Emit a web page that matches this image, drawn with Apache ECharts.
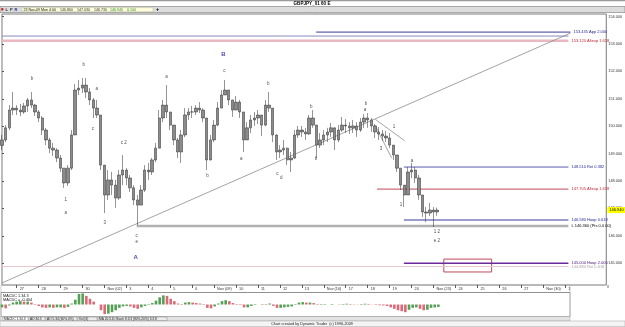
<!DOCTYPE html>
<html><head><meta charset="utf-8">
<script src="https://cdn.jsdelivr.net/npm/echarts@6/dist/echarts.min.js"></script>
<style>html,body{margin:0;padding:0;background:#fff}#c{width:625px;height:327px}</style>
</head><body><div id="c"></div>
<script>
// ---- DATA (4-hour bars; hour index counted from the first bar, Oct 26 08:00) ----
const barHours = [];
for (let i = 0; i < 120; i++) barHours.push(i * 4);
const firstOpen = 149.30;
const highs = [149.68,150.04,150.77,151.25,150.77,150.81,150.85,151.03,151.25,150.81,
150.59,150.37,149.94,149.57,149.39,149.20,148.95,148.47,148.58,149.86,
151.54,151.69,151.76,151.76,151.39,151.03,150.96,150.41,148.58,148.40,
148.33,148.04,148.40,148.95,148.47,148.22,147.85,147.49,147.85,148.58,
148.66,148.84,149.39,150.59,150.96,151.50,150.52,150.04,149.57,149.86,
150.66,150.66,150.74,150.77,150.88,150.66,150.30,149.68,150.23,150.88,
151.32,151.69,151.32,150.96,151.10,150.96,150.52,150.15,150.41,150.52,
150.59,150.41,150.96,151.25,150.66,149.70,149.31,149.50,149.22,149.06,
149.86,150.01,150.01,149.94,150.41,150.59,150.05,149.75,149.86,149.94,
150.12,149.95,150.04,150.34,150.26,150.15,150.23,150.15,150.30,150.45,
150.48,150.30,150.08,149.97,149.86,149.83,149.75,149.31,148.95,148.47,
147.85,148.51,148.66,148.51,148.22,147.49,147.05,147.20,147.05,147.03];
const lows = [149.13,149.42,149.86,150.41,150.41,150.37,150.45,150.52,150.66,150.37,
150.15,149.68,149.31,149.02,148.91,148.69,148.33,147.75,147.82,148.40,
149.68,151.14,151.21,151.03,150.77,150.30,150.30,148.40,146.83,147.31,
147.49,147.02,147.31,147.85,147.85,147.60,147.12,146.39,147.12,147.60,
148.04,148.22,148.69,149.20,150.15,150.30,149.86,149.31,148.84,148.66,
149.60,150.23,150.30,150.41,150.48,150.15,148.40,148.75,149.42,150.00,
150.66,151.14,150.77,150.34,150.59,150.30,149.06,149.50,149.75,150.01,
150.08,149.64,150.00,150.52,149.42,148.77,148.84,148.95,148.58,148.33,
148.80,149.57,149.61,149.50,149.68,149.94,148.84,149.20,149.31,149.42,
149.61,149.13,149.42,149.79,149.75,149.72,149.75,149.61,149.79,149.94,
149.94,149.79,149.57,149.50,149.46,149.42,149.20,148.77,148.33,147.67,
147.05,147.49,148.11,147.93,147.31,146.69,146.50,146.72,146.32,146.73];
const closes = [149.50,149.94,150.59,150.66,150.59,150.52,150.74,150.96,150.77,150.52,
150.30,149.86,149.50,149.20,149.13,148.84,148.47,147.93,148.47,149.68,
151.32,151.39,151.50,151.25,150.96,150.66,150.41,148.58,147.49,148.04,
147.85,147.38,148.22,148.40,148.11,147.75,147.31,147.12,147.67,148.40,
148.33,148.77,149.20,150.30,150.77,150.52,150.04,149.50,149.06,149.68,
150.41,150.52,150.52,150.66,150.59,150.30,148.77,149.50,150.04,150.66,
151.14,151.32,150.96,150.59,150.88,150.52,149.50,149.94,150.23,150.30,
150.41,150.04,150.77,150.66,149.68,149.06,149.13,149.20,148.77,148.84,
149.68,149.86,149.79,149.72,150.30,150.04,149.31,149.50,149.68,149.79,
149.94,149.50,149.86,150.04,150.01,149.94,150.01,149.86,150.15,150.30,
150.23,150.01,149.79,149.72,149.64,149.57,149.31,148.95,148.47,147.85,
147.49,148.33,148.40,148.11,147.49,146.87,146.83,146.94,146.87,146.94];
const macdHist = [-0.3,-0.4,-0.1,0.2,0.3,0.35,0.3,0.3,0.2,0.05,
-0.15,-0.3,-0.35,-0.3,-0.35,-0.3,-0.3,-0.35,-0.25,0.1,
0.5,1.1,1.15,0.9,0.6,0.3,0.0,-0.6,-1.0,-0.95,
-0.8,-0.6,-0.35,-0.2,-0.15,-0.2,-0.35,-0.45,-0.3,-0.15,
-0.05,0.15,0.4,0.75,0.95,0.9,0.6,0.35,0.1,0.05,
0.2,0.25,0.2,0.15,0.1,-0.05,-0.35,-0.4,-0.2,0.1,
0.35,0.45,0.35,0.15,0.05,-0.05,-0.3,-0.3,-0.15,-0.05,
0.0,-0.05,0.05,0.1,-0.15,-0.35,-0.35,-0.3,-0.25,-0.2,
0.05,0.2,0.25,0.2,0.2,0.15,-0.05,-0.05,-0.05,0.0,
0.05,0.0,-0.03,0.05,0.08,0.05,0.03,0.02,0.05,0.08,
0.06,0.02,-0.05,-0.08,-0.1,-0.15,-0.3,-0.45,-0.6,-0.7,
-0.8,-0.55,-0.35,-0.3,-0.45,-0.6,-0.55,-0.35,-0.3,-0.25];

// x-axis ticks (start of each trading day) and their labels
const tickHours = [16,40,64,88,112,136,160,184,208,232,256,280,304,328,352,376,400,424,448,472,496,520,544,568,592,616];
const tickLabels = ['27','28','29','30','Nov (02)','3','4','5','6','Nov (09)','10','11','12','13','Nov (16)','17','18','19','20','Nov (23)','24','25','26','27','Nov (30)','1'];
const priceTicks = [145,146,147,148,149,150,151,152,153,154];
const lastPrice = 146.94;

// price levels (horizontal lines)
const levelPrices = [153.435,153.290,153.120,148.510,147.705,146.580,146.360,145.000,144.880];
const levelStart  = [343.6,0,0,439.6,410.2,439.6,147.3,439.6,0];
const levelEnd    = [621.8,619.6,619.6,619.6,619.6,619.6,619.6,619.6,619.6];
const levelLabels = ['153.435 App 2.000','','153.120 Altexp 1.618','148.510 Ret 0.382','147.705 Altexp 1.618','146.580 Hoop 0.618','L 146.360 (Pts 0.0 00)','145.000 Hoop 2.000','144.880 Ret 0.618'];

// trend lines
const trendHours  = [[0,621.8],[408.4,440.4],[408,426.2]];
const trendPrices = [[144.28,153.40],[150.25,149.47],[150.04,148.84]];

// target box
const boxHours = [483.3,535.6];
const boxPrices = [145.15,144.68];

// wave labels
const waveHours  = [32.7,89.5,103.6,99.3,133.1,180,243.3,291.3,224.7,261.8,301.1,305.5,338.2,343.6,398.2,397.1,428.7,414.5,448.4,69.8,69.8,112.4,147.3,147.3,436.4,475.6,475.6];
const wavePrices = [151.72,152.23,151.36,149.90,149.39,151.80,152.01,151.54,148.18,148.80,148.26,148.11,150.70,148.80,150.81,150.59,149.97,149.17,148.73,147.31,146.83,146.47,145.99,145.77,147.12,146.14,145.81];
const waveTexts  = ['b','b','a','c','c 2','a','c','b','b','a','c','d','b','b','b','a','1','3','a','1','a','3','c','e','1','1 2','e 2'];
const bigHours = [146.2,242.2];
const bigPrices = [145.23,152.64];
const bigTexts = ['A','B'];

// ---- STYLES ----
const FF = 'Liberation Sans, Arial, sans-serif';
const levelColors = ['#3a3a9a','#8a8ac0','#eab8c0','#5a5ab0','#c04858','#9c9cd0','#b0b0b0','#6a2a9a','#e8c8cc'];
const levelWidths = [1,1,2.5,1,1,2,2.5,1.6,1.2];
const levelTextColors = ['#2a2a9a','#2a2a9a','#c02838','#2a2a9a','#c02838','#2a2a9a','#000','#4a1a7a','#b0a0a8'];

const opens = closes.map((c, i) => i === 0 ? firstOpen : closes[i - 1]);
const candleData = barHours.map((h, i) => [h, opens[i], closes[i], lows[i], highs[i]]);
const macdData = barHours.map((h, i) => ({
  value: [h, macdHist[i]],
  itemStyle: { color: (i > 0 && macdHist[i] < macdHist[i - 1]) ? '#da6a78' : '#55a055' }
}));

const series = [];
series.push({
  type: 'candlestick', xAxisIndex: 0, yAxisIndex: 0, data: candleData,
  barWidth: 2.9, silent: true,
  itemStyle: { color: '#8c8c8c', color0: '#8c8c8c', borderColor: '#2a2a2a', borderColor0: '#2a2a2a', borderWidth: 0.5 },
  markLine: {
    silent: true, symbol: 'none', animation: false,
    lineStyle: { color: 'rgba(0,0,0,0)', width: 1, type: 'solid' },
    label: { show: true, position: 'end', distance: 1, formatter: lastPrice.toFixed(3), backgroundColor: '#ffff00',
      color: '#000', fontSize: 4, fontFamily: FF, padding: [1, 2] },
    data: [{ yAxis: lastPrice }]
  },
  markArea: {
    silent: true,
    itemStyle: { color: 'rgba(0,0,0,0)', borderColor: '#c04858', borderWidth: 1 },
    data: [[{ coord: [boxHours[0], boxPrices[0]] }, { coord: [boxHours[1], boxPrices[1]] }]]
  },
  z: 3
});
levelPrices.forEach((p, i) => {
  series.push({
    type: 'line', xAxisIndex: 0, yAxisIndex: 0, silent: true, animation: false,
    data: [[levelStart[i], p], [levelEnd[i], p]], symbol: 'none',
    lineStyle: { color: levelColors[i], width: levelWidths[i] },
    endLabel: { show: levelLabels[i] !== '', formatter: levelLabels[i], color: levelTextColors[i],
      fontSize: 4, fontFamily: FF, distance: 3 },
    z: 2
  });
});
trendHours.forEach((hs, i) => {
  series.push({
    type: 'line', xAxisIndex: 0, yAxisIndex: 0, silent: true, animation: false,
    data: [[hs[0], trendPrices[i][0]], [hs[1], trendPrices[i][1]]], symbol: 'none',
    lineStyle: { color: '#8c8c8c', width: 0.8 }, z: 2
  });
});
series.push({
  type: 'scatter', xAxisIndex: 0, yAxisIndex: 0, silent: true, animation: false,
  data: waveHours.map((h, i) => [h, wavePrices[i]]), symbolSize: 2, itemStyle: { color: 'rgba(0,0,0,0)' },
  label: { show: true, position: 'inside', formatter: p => waveTexts[p.dataIndex], color: '#222', fontSize: 4.5, fontFamily: FF },
  z: 6
});
series.push({
  type: 'scatter', xAxisIndex: 0, yAxisIndex: 0, silent: true, animation: false,
  data: bigHours.map((h, i) => [h, bigPrices[i]]), symbolSize: 2, itemStyle: { color: 'rgba(0,0,0,0)' },
  label: { show: true, position: 'inside', formatter: p => bigTexts[p.dataIndex], color: '#1a1aa0', fontSize: 6, fontWeight: 'bold', fontFamily: FF },
  z: 6
});
series.push({
  type: 'bar', xAxisIndex: 1, yAxisIndex: 1, data: macdData, barWidth: 2.6, silent: true, animation: false
});

const tabs = [
  ['MACDC 1.34.3', 3, 25], ['AD 34.5', 29, 16], ['AO 5.34 (60%,0%)', 46, 31],
  ['Vol (6)', 78, 19], ['MA 20.3.4', 98, 16], ['Stoch 8.3.3 (80%,20%) 3.3.8', 115, 52]
];
const graphic = [
  { type: 'rect', shape: { x: 0, y: 0, width: 625, height: 1.2 }, style: { fill: '#9a9a9a' } },
  { type: 'text', x: 312, y: 3.9, style: { text: 'GBPJPY_01 60 E', fontSize: 4.6, fontWeight: 'bold', fontFamily: FF, fill: '#000', align: 'center', verticalAlign: 'middle' } },
  { type: 'rect', shape: { x: 0, y: 6.5, width: 625, height: 6 }, style: { fill: '#dcdcdc', stroke: '#7a7a7a', lineWidth: 0.6 } },
  { type: 'rect', shape: { x: 1.2, y: 8.2, width: 2.2, height: 2.2 }, style: { fill: '#c01818' } },
  { type: 'text', x: 5.5, y: 9.6, style: { text: 'L', fontSize: 4, fontWeight: 'bold', fontFamily: FF, fill: '#333', verticalAlign: 'middle' } },
  { type: 'text', x: 10, y: 9.6, style: { text: 'P', fontSize: 4, fontWeight: 'bold', fontFamily: FF, fill: '#333', verticalAlign: 'middle' } },
  { type: 'text', x: 14.5, y: 9.6, style: { text: 'R', fontSize: 4, fontWeight: 'bold', fontFamily: FF, fill: '#2a2aa0', verticalAlign: 'middle' } },
  { type: 'rect', shape: { x: 22, y: 7.6, width: 131, height: 4.2 }, style: { fill: '#ffffdc', stroke: '#b8b8a0', lineWidth: 0.5 } },
  { type: 'text', x: 23.5, y: 9.7, style: { text: '23 Nov-09 Mon 4:00', fontSize: 3.6, fontFamily: FF, fill: '#111', verticalAlign: 'middle' } },
  { type: 'text', x: 60, y: 9.7, style: { text: '146.860', fontSize: 3.6, fontFamily: FF, fill: '#333', verticalAlign: 'middle' } },
  { type: 'text', x: 77, y: 9.7, style: { text: '147.030', fontSize: 3.6, fontFamily: FF, fill: '#333', verticalAlign: 'middle' } },
  { type: 'text', x: 94, y: 9.7, style: { text: '146.730', fontSize: 3.6, fontFamily: FF, fill: '#333', verticalAlign: 'middle' } },
  { type: 'text', x: 110, y: 9.7, style: { text: '146.940', fontSize: 3.6, fontFamily: FF, fill: '#2a8a2a', verticalAlign: 'middle' } },
  { type: 'text', x: 127, y: 9.7, style: { text: '0.100', fontSize: 3.6, fontFamily: FF, fill: '#2a8a2a', verticalAlign: 'middle' } },
  { type: 'text', x: 156, y: 9.6, style: { text: '+', fontSize: 5.5, fontWeight: 'bold', fontFamily: FF, fill: '#000', verticalAlign: 'middle' } },
  { type: 'rect', shape: { x: 1, y: 285, width: 569, height: 7.5 }, style: { fill: 'none', stroke: '#b0b0b0', lineWidth: 0.6 } },
  { type: 'rect', shape: { x: 1, y: 292.5, width: 569, height: 24 }, style: { fill: 'none', stroke: '#808080', lineWidth: 0.8 } },
  { type: 'text', x: 3, y: 295.5, style: { text: 'MACDC 1.34.3', fontSize: 3.8, fontFamily: FF, fill: '#111', verticalAlign: 'middle' } },
  { type: 'text', x: 3, y: 299.6, style: { text: 'MACDC = -0.404', fontSize: 3.8, fontFamily: FF, fill: '#111', verticalAlign: 'middle' } },
  { type: 'rect', shape: { x: 0, y: 316.5, width: 570, height: 4.5 }, style: { fill: '#e2e2e2', stroke: '#a0a0a0', lineWidth: 0.4 } },
  { type: 'rect', shape: { x: 0, y: 321, width: 625, height: 5.5 }, style: { fill: '#f4f4f4', stroke: '#a0a0a0', lineWidth: 0.5 } },
  { type: 'text', x: 312, y: 324, style: { text: 'Chart created by Dynamic Trader  (c) 1996-2009', fontSize: 3.8, fontFamily: FF, fill: '#222', align: 'center', verticalAlign: 'middle' } },
  { type: 'line', shape: { x1: 608, y1: 285, x2: 608, y2: 288 }, style: { stroke: '#777', lineWidth: 1 } }
];
tabs.forEach((t, i) => {
  graphic.push({ type: 'rect', shape: { x: t[1], y: 317, width: t[2], height: 3.6 }, style: { fill: i === 0 ? '#ffffff' : '#ececec', stroke: '#707070', lineWidth: 0.4 } });
  graphic.push({ type: 'text', x: t[1] + 1, y: 318.9, style: { text: t[0], fontSize: 3.2, fontFamily: FF, fill: '#111', verticalAlign: 'middle' } });
});

const chart = echarts.init(document.getElementById('c'), null, { renderer: 'canvas', width: 625, height: 327 });
chart.setOption({
  animation: false,
  backgroundColor: '#ffffff',
  grid: [
    { left: 2, top: 14, right: 17, bottom: 42, show: true, borderColor: '#7a7a7a', borderWidth: 1, backgroundColor: '#fff' },
    { left: 2, top: 293, width: 568, height: 23 }
  ],
  xAxis: [
    { type: 'value', gridIndex: 0, min: 0, max: 661, splitLine: { show: false },
      axisLine: { show: false },
      axisTick: { show: true, customValues: tickHours, length: 3, inside: false, lineStyle: { color: '#333', width: 0.8 } },
      axisLabel: { show: true, customValues: tickHours, formatter: v => tickLabels[tickHours.indexOf(v)] || '',
        fontSize: 3.8, fontFamily: FF, color: '#333', align: 'left', margin: 2, padding: [0, 0, 0, 3] } },
    { type: 'value', gridIndex: 1, min: 0, max: 619.6, show: false }
  ],
  yAxis: [
    { type: 'value', gridIndex: 0, position: 'right', min: 144.205, max: 154.095, scale: true,
      splitLine: { show: false },
      axisLine: { show: false },
      axisTick: { show: true, customValues: priceTicks, length: 2, lineStyle: { color: '#555' } },
      axisLabel: { show: true, customValues: priceTicks, formatter: v => v.toFixed(3), fontSize: 3.8, fontFamily: FF, color: '#333', margin: 2 } },
    { type: 'value', gridIndex: 1, min: -1.2, max: 1.2, show: false }
  ],
  graphic: graphic,
  series: series
});
</script>
</body></html>
